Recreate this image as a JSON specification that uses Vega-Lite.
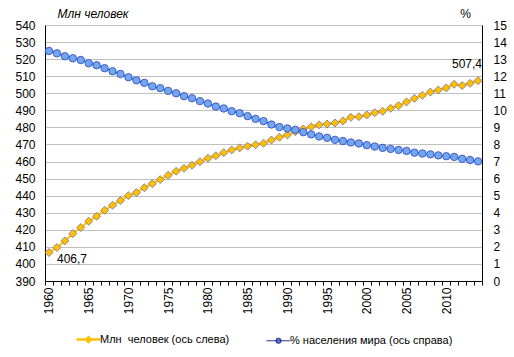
{
  "$schema": "https://vega.github.io/schema/vega-lite/v6.json",
  "width": 437,
  "height": 256,
  "autosize": {"type": "none"},
  "padding": {"left": 45, "top": 25, "right": 32, "bottom": 76},
  "background": "white",
  "config": {
    "view": {"stroke": null},
    "font": "Liberation Sans",
    "axis": {"labelFont": "Liberation Sans", "labelFontSize": 12, "labelColor": "#000000", "titleFont": "Liberation Sans", "titleFontSize": 12, "titleColor": "#000000", "titleFontWeight": "normal", "domainColor": "#000000", "tickColor": "#000000"}
  },
  "data": {"values": [
    {"year": 1960, "pop": 406.7, "pct": 13.48, "lbl": "406,7"},
    {"year": 1961, "pop": 409.6, "pct": 13.34},
    {"year": 1962, "pop": 413.5, "pct": 13.17},
    {"year": 1963, "pop": 417.7, "pct": 13.05},
    {"year": 1964, "pop": 421.3, "pct": 12.95},
    {"year": 1965, "pop": 425.0, "pct": 12.76},
    {"year": 1966, "pop": 427.9, "pct": 12.64},
    {"year": 1967, "pop": 431.4, "pct": 12.47},
    {"year": 1968, "pop": 434.4, "pct": 12.29},
    {"year": 1969, "pop": 437.1, "pct": 12.13},
    {"year": 1970, "pop": 440.0, "pct": 11.94},
    {"year": 1971, "pop": 441.8, "pct": 11.76},
    {"year": 1972, "pop": 444.7, "pct": 11.61},
    {"year": 1973, "pop": 447.0, "pct": 11.41},
    {"year": 1974, "pop": 449.4, "pct": 11.30},
    {"year": 1975, "pop": 451.9, "pct": 11.14},
    {"year": 1976, "pop": 454.3, "pct": 11.00},
    {"year": 1977, "pop": 456.0, "pct": 10.83},
    {"year": 1978, "pop": 457.8, "pct": 10.71},
    {"year": 1979, "pop": 459.9, "pct": 10.54},
    {"year": 1980, "pop": 461.9, "pct": 10.40},
    {"year": 1981, "pop": 463.4, "pct": 10.22},
    {"year": 1982, "pop": 465.2, "pct": 10.11},
    {"year": 1983, "pop": 466.8, "pct": 9.95},
    {"year": 1984, "pop": 468.0, "pct": 9.83},
    {"year": 1985, "pop": 469.0, "pct": 9.66},
    {"year": 1986, "pop": 469.8, "pct": 9.50},
    {"year": 1987, "pop": 470.7, "pct": 9.37},
    {"year": 1988, "pop": 472.6, "pct": 9.17},
    {"year": 1989, "pop": 474.2, "pct": 9.02},
    {"year": 1990, "pop": 475.6, "pct": 8.94},
    {"year": 1991, "pop": 477.5, "pct": 8.86},
    {"year": 1992, "pop": 479.1, "pct": 8.72},
    {"year": 1993, "pop": 480.4, "pct": 8.59},
    {"year": 1994, "pop": 481.5, "pct": 8.47},
    {"year": 1995, "pop": 482.0, "pct": 8.39},
    {"year": 1996, "pop": 482.6, "pct": 8.27},
    {"year": 1997, "pop": 483.8, "pct": 8.20},
    {"year": 1998, "pop": 485.9, "pct": 8.12},
    {"year": 1999, "pop": 486.3, "pct": 8.06},
    {"year": 2000, "pop": 487.3, "pct": 7.96},
    {"year": 2001, "pop": 488.6, "pct": 7.88},
    {"year": 2002, "pop": 489.4, "pct": 7.80},
    {"year": 2003, "pop": 491.2, "pct": 7.74},
    {"year": 2004, "pop": 492.7, "pct": 7.68},
    {"year": 2005, "pop": 494.9, "pct": 7.62},
    {"year": 2006, "pop": 497.0, "pct": 7.52},
    {"year": 2007, "pop": 498.8, "pct": 7.47},
    {"year": 2008, "pop": 500.7, "pct": 7.42},
    {"year": 2009, "pop": 501.9, "pct": 7.36},
    {"year": 2010, "pop": 503.1, "pct": 7.31},
    {"year": 2011, "pop": 505.3, "pct": 7.27},
    {"year": 2012, "pop": 504.5, "pct": 7.16},
    {"year": 2013, "pop": 505.8, "pct": 7.09},
    {"year": 2014, "pop": 507.4, "pct": 7.01, "lbl": "507,4"}
  ]},
  "encoding": {
    "x": {
      "field": "year", "type": "ordinal", "bandPosition": 0.5,
      "scale": {"type": "band", "paddingInner": 0, "paddingOuter": 0},
      "axis": {"title": null, "labelAngle": -90, "labelPadding": 2, "tickSize": 4, "tickBand": "extent", "labelOverlap": false,
               "labelExpr": "datum.value % 5 == 0 ? datum.label : ''", "domainColor": "#000000", "tickColor": "#000000"}
    }
  },
  "layer": [
    {
      "encoding": {
        "y": {"field": "pop", "type": "quantitative",
              "scale": {"domain": [390, 540], "nice": false, "zero": false},
              "axis": {"orient": "left", "values": [390,400,410,420,430,440,450,460,470,480,490,500,510,520,530,540],
                       "grid": true, "gridColor": "#bfbfbf", "ticks": false, "labelPadding": 10,
                       "title": "Млн человек", "titleAngle": 0, "titleX": 12, "titleY": -8, "titleAlign": "left",
                       "titleBaseline": "alphabetic", "titleFontStyle": "italic"}}
      },
      "layer": [
        {"mark": {"type": "line", "strokeWidth": 2},
         "encoding": {"color": {"datum": "Млн\u00a0 человек (ось слева)", "type": "nominal",
            "scale": {"domain": ["Млн\u00a0 человек (ось слева)", "% населения мира (ось справа)"], "range": ["#FFC000", "#333399"]},
            "legend": {"orient": "none", "legendX": 38, "legendY": 309, "direction": "horizontal", "title": null,
                       "labelFont": "Liberation Sans", "labelFontSize": 11, "labelColor": "#000000", "labelOffset": 6,
                       "labelLimit": 0, "columnPadding": 34, "symbolSize": 576,
                       "encode": {"symbols": {"update": {
                         "shape": {"signal": "datum.value === '% населения мира (ось справа)' ? 'M-1,0L1,0M0.2,0A0.2,0.2 0 1,1 -0.2,0A0.2,0.2 0 1,1 0.2,0Z' : 'M-1,0L1,0M0,-0.2L0.2,0L0,0.2L-0.2,0Z'"},
                         "fill": {"signal": "datum.value === '% населения мира (ось справа)' ? '#6fa8f0' : '#FFC000'"},
                         "stroke": {"signal": "datum.value === '% населения мира (ось справа)' ? '#333399' : '#FFC000'"},
                         "strokeWidth": {"signal": "datum.value === '% населения мира (ось справа)' ? 1.2 : 2.5"},
                         "opacity": {"value": 1}
                       }}}}}}},
        {"mark": {"type": "point", "shape": "diamond", "size": 64, "filled": true, "fill": "#FFC000", "stroke": "#7b6f9e", "strokeWidth": 0.8, "opacity": 1}},
        {"transform": [{"filter": "datum.year == 1960"}],
         "mark": {"type": "text", "align": "left", "baseline": "alphabetic", "dx": 8, "dy": 10.5, "fontSize": 12, "font": "Liberation Sans", "color": "#000000"},
         "encoding": {"text": {"field": "lbl"}}},
        {"transform": [{"filter": "datum.year == 2014"}],
         "mark": {"type": "text", "align": "right", "baseline": "alphabetic", "dx": 4, "dy": -12.4, "fontSize": 12, "font": "Liberation Sans", "color": "#000000"},
         "encoding": {"text": {"field": "lbl"}}}
      ]
    },
    {
      "encoding": {
        "y": {"field": "pct", "type": "quantitative",
              "scale": {"domain": [0, 15], "nice": false},
              "axis": {"orient": "right", "values": [0,1,2,3,4,5,6,7,8,9,10,11,12,13,14,15],
                       "grid": false, "ticks": false, "labelPadding": 11,
                       "title": "%", "titleAngle": 0, "titleX": -17, "titleY": -8, "titleAlign": "center",
                       "titleBaseline": "alphabetic"}}
      },
      "layer": [
        {"mark": {"type": "line", "strokeWidth": 1.2},
         "encoding": {"color": {"datum": "% населения мира (ось справа)", "type": "nominal"}}},
        {"mark": {"type": "point", "shape": "circle", "size": 55, "filled": true, "fill": "#6fa8f0", "stroke": "#3a4fc4", "strokeWidth": 0.9, "opacity": 1}}
      ]
    }
  ],
  "resolve": {"scale": {"y": "independent"}}
}
